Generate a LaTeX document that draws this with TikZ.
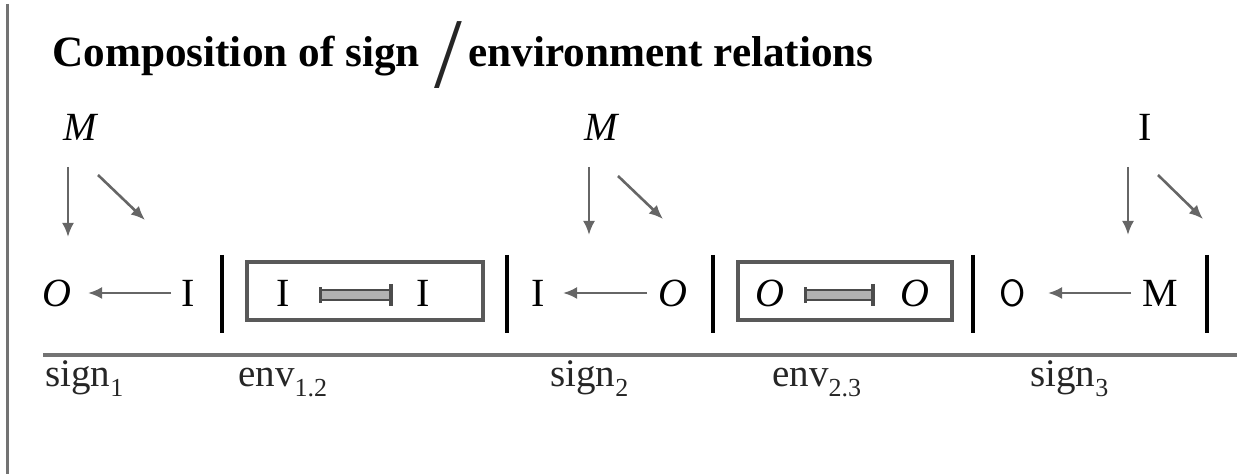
\documentclass[tikz,border=0pt]{standalone}
\usepackage{fontspec}
\setmainfont{Liberation Serif}
\usetikzlibrary{arrows.meta}
\tikzset{
  ttl/.style={anchor=base west, inner sep=0pt, font=\bfseries\fontsize{21.6}{24}\selectfont},
  sym/.style={inner sep=0pt, font=\fontsize{20}{24}\selectfont},
  isym/.style={inner sep=0pt, font=\itshape\fontsize{20}{24}\selectfont},
  lbl/.style={anchor=base west, inner sep=0pt, text=black!85, font=\fontsize{19.5}{22}\selectfont},
  arr/.style={draw=black!60, line width=1.3pt, -{Latex[length=7pt,width=6pt]}},
  darr/.style={draw=black!70, double=black!30, double distance=3.6pt, line width=1pt,
               {Bar[width=8pt,line width=1.6pt]}-{Bar[width=11pt,line width=1.8pt]}},
  bar/.style={draw=black, line width=2pt},
  envbox/.style={draw=black!65, line width=1.6pt},
  rule/.style={draw=black!55, line width=1.6pt},
}
\newcommand{\sbx}[1]{\raisebox{-5pt}{\fontsize{13}{14}\selectfont #1}}
\begin{document}
\begin{tikzpicture}[x=0.5pt,y=-0.5pt]
\useasboundingbox (0,0) rectangle (1249,474);
% left margin line
\coordinate (lt) at (7,4);
\coordinate (lb) at (7,474);
\draw[draw=black!55, line width=1.5pt] (lt) -- (lb);
% title
\node[ttl] (t1) at (52,67) {Composition of sign};
\node[anchor=base, inner sep=0pt, text=black!85, font=\fontsize{50}{52}\selectfont] (sl) at (448,88) {/};
\node[ttl] (t2) at (468,67) {environment relations};
% top symbols
\node[isym] (M1) at (80,127) {M};
\node[isym] (M2) at (601,127) {M};
\node[sym] (I3) at (1145,127) {I};
\coordinate (d1a) at (68,167);  \coordinate (d1b) at (68,237);
\coordinate (e1a) at (98,175); \coordinate (e1b) at (145,220);
\coordinate (d2a) at (589,167); \coordinate (d2b) at (589,235);
\coordinate (e2a) at (618,176); \coordinate (e2b) at (663,219);
\coordinate (d3a) at (1128,167); \coordinate (d3b) at (1128,235);
\coordinate (e3a) at (1158,175); \coordinate (e3b) at (1203,219);
\draw[arr] (d1a) -- (d1b);
\draw[arr] (e1a) -- (e1b);
\draw[arr] (d2a) -- (d2b);
\draw[arr] (e2a) -- (e2b);
\draw[arr] (d3a) -- (d3b);
\draw[arr] (e3a) -- (e3b);
% row
\node[isym] (o1) at (57,293) {O};
\node[sym] (i1) at (188,293) {I};
\coordinate (a1s) at (171,293); \coordinate (a1e) at (88,293);
\draw[arr] (a1s) -- (a1e);
\coordinate (b1t) at (222,255); \coordinate (b1b) at (222,333);
\draw[bar] (b1t) -- (b1b);
\node[envbox, minimum width=118pt, minimum height=29pt, inner sep=0pt] (box1) at (365,291) {};
\node[sym] (i2) at (283,293) {I};
\node[sym] (i2b) at (423,293) {I};
\coordinate (da1) at (319,295); \coordinate (db1) at (393,295);
\draw[darr] (da1) -- (db1);
\coordinate (b2t) at (507,255); \coordinate (b2b) at (507,333);
\draw[bar] (b2t) -- (b2b);
\node[sym] (i3) at (538,293) {I};
\node[isym] (o3) at (673,293) {O};
\coordinate (a3s) at (647,293); \coordinate (a3e) at (563,293);
\draw[arr] (a3s) -- (a3e);
\coordinate (b3t) at (713,255); \coordinate (b3b) at (713,333);
\draw[bar] (b3t) -- (b3b);
\node[envbox, minimum width=107pt, minimum height=29pt, inner sep=0pt] (box2) at (845,291) {};
\node[isym] (o4) at (770,293) {O};
\node[isym] (o4b) at (915,293) {O};
\coordinate (da2) at (804,295); \coordinate (db2) at (875,295);
\draw[darr] (da2) -- (db2);
\coordinate (b4t) at (973,255); \coordinate (b4b) at (973,333);
\draw[bar] (b4t) -- (b4b);
\node[inner sep=0pt, font=\sffamily\fontsize{19}{22}\selectfont] (o5) at (1013,293) {O};
\node[sym] (m5) at (1160,293) {M};
\coordinate (a5s) at (1131,293); \coordinate (a5e) at (1048,293);
\draw[arr] (a5s) -- (a5e);
\coordinate (b5t) at (1207,255); \coordinate (b5b) at (1207,333);
\draw[bar] (b5t) -- (b5b);
% base rule
\coordinate (rl) at (43,355); \coordinate (rr) at (1237,355);
\draw[rule] (rl) -- (rr);
% labels
\node[lbl] (s1) at (45,387) {sign\sbx{1}};
\node[lbl] (e12) at (238,387) {env\sbx{1.2}};
\node[lbl] (s2) at (550,387) {sign\sbx{2}};
\node[lbl] (e23) at (772,387) {env\sbx{2.3}};
\node[lbl] (s3) at (1030,387) {sign\sbx{3}};
\end{tikzpicture}
\end{document}
